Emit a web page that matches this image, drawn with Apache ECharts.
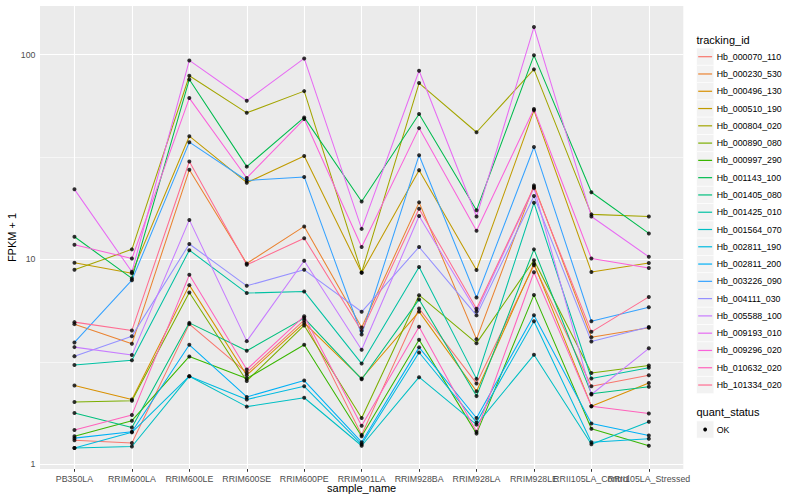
<!DOCTYPE html>
<html><head><meta charset="utf-8">
<script src="https://cdn.jsdelivr.net/npm/echarts@6/dist/echarts.min.js"></script>
<style>html,body{margin:0;padding:0;background:#fff}#c{width:800px;height:500px}</style>
</head><body><div id="c"></div>
<script>
// ---- data ----
const categories = ['PB350LA','RRIM600LA','RRIM600LE','RRIM600SE','RRIM600PE','RRIM901LA','RRIM928BA','RRIM928LA','RRIM928LE','RRII105LA_Control','RRII105LA_Stressed'];
const trackingIds = ['Hb_000070_110','Hb_000230_530','Hb_000496_130','Hb_000510_190','Hb_000804_020','Hb_000890_080','Hb_000997_290','Hb_001143_100','Hb_001405_080','Hb_001425_010','Hb_001564_070','Hb_002811_190','Hb_002811_200','Hb_003226_090','Hb_004111_030','Hb_005588_100','Hb_009193_010','Hb_009296_020','Hb_010632_020','Hb_101334_020'];
const Hb_000070_110 = [1.31, 1.27, 4.83, 2.80, 5.05, 1.39, 5.76, 2.48, 9.37, 2.40, 2.72];
const Hb_000230_530 = [4.83, 3.87, 27.4, 9.56, 14.5, 4.65, 19.0, 4.08, 23.0, 4.17, 4.64];
const Hb_000496_130 = [2.42, 2.07, 7.49, 2.72, 4.90, 2.62, 5.56, 2.27, 9.54, 1.92, 2.49];
const Hb_000510_190 = [9.63, 8.57, 40.0, 23.7, 32.0, 8.60, 27.3, 8.87, 53.5, 8.69, 9.61];
const Hb_000804_020 = [8.90, 11.2, 78.9, 52.0, 66.4, 8.64, 72.7, 41.8, 84.8, 16.6, 16.2];
const Hb_000890_080 = [2.01, 2.04, 6.90, 2.55, 4.76, 1.68, 6.69, 3.90, 9.91, 2.79, 3.03];
const Hb_000997_290 = [1.37, 1.63, 3.36, 2.62, 3.83, 1.37, 4.05, 1.41, 6.71, 1.49, 1.23];
const Hb_001143_100 = [12.9, 8.08, 75.7, 28.4, 49.4, 19.2, 51.3, 17.4, 99.3, 21.3, 13.4];
const Hb_001405_080 = [1.78, 1.51, 4.90, 3.58, 5.17, 2.60, 6.38, 2.15, 11.2, 2.21, 2.39];
const Hb_001425_010 = [3.05, 3.22, 11.1, 6.85, 6.98, 3.10, 9.18, 2.61, 18.9, 2.62, 2.96];
const Hb_001564_070 = [1.20, 1.22, 2.69, 1.91, 2.11, 1.23, 2.66, 1.56, 3.42, 1.25, 1.61];
const Hb_002811_190 = [1.20, 1.43, 2.69, 2.07, 2.40, 1.25, 3.51, 1.60, 4.99, 1.28, 1.33];
const Hb_002811_200 = [1.34, 1.44, 3.83, 2.13, 2.56, 1.28, 3.72, 1.68, 5.34, 1.58, 1.38];
const Hb_003226_090 = [3.93, 7.92, 37.4, 24.3, 25.3, 4.30, 32.3, 6.52, 35.4, 4.99, 5.84];
const Hb_004111_030 = [3.37, 4.22, 11.9, 7.43, 8.90, 5.55, 11.5, 5.33, 20.4, 3.97, 4.68];
const Hb_005588_100 = [3.73, 3.41, 15.6, 3.99, 9.85, 3.62, 16.3, 5.57, 22.3, 2.19, 3.68];
const Hb_009193_010 = [22.0, 8.70, 93.8, 59.6, 95.9, 14.1, 83.5, 16.2, 136.5, 16.2, 10.3];
const Hb_009296_020 = [11.8, 10.1, 61.4, 25.0, 48.5, 11.5, 43.8, 13.8, 54.3, 10.1, 9.09];
const Hb_010632_020 = [1.47, 1.74, 8.41, 2.90, 5.28, 1.54, 4.69, 1.44, 8.66, 1.92, 1.77];
const Hb_101334_020 = [4.94, 4.50, 30.1, 9.41, 12.7, 4.47, 17.7, 5.74, 22.6, 4.43, 6.56];
const seriesValues = [Hb_000070_110,Hb_000230_530,Hb_000496_130,Hb_000510_190,Hb_000804_020,Hb_000890_080,Hb_000997_290,Hb_001143_100,Hb_001405_080,Hb_001425_010,Hb_001564_070,Hb_002811_190,Hb_002811_200,Hb_003226_090,Hb_004111_030,Hb_005588_100,Hb_009193_010,Hb_009296_020,Hb_010632_020,Hb_101334_020];
const yTicks = [1, 10, 100];
const yMinorTicks = [Math.sqrt(10), Math.sqrt(1000)];
const quantStatus = ['OK'];

// ---- style ----
const colors = ['#F8766D','#EA8331','#D89000','#C09B00','#A3A500','#7CAE00','#39B600','#00BB4E','#00BF7D','#00C1A3','#00BFC4','#00BAE0','#00B0F6','#35A2FF','#9590FF','#C77CFF','#E76BF3','#FA62DB','#FF62BC','#FF6C91'];
const FONT = '"Liberation Sans", Arial, Helvetica, sans-serif';
const panel = {l: 40, r: 683.3, t: 6, b: 469};

// ggplot-like expansion
const allV = [].concat(...seriesValues);
const lo = Math.log10(Math.min(...allV)), hi = Math.log10(Math.max(...allV));
const pad = (hi - lo) * 0.05;
const yMin = Math.pow(10, lo - pad), yMax = Math.pow(10, hi + pad);

const chart = echarts.init(document.getElementById('c'), null, {renderer: 'svg'});

const series = [];
series.push({
  type: 'line', data: [], z: 1, silent: true,
  markLine: {
    silent: true, symbol: ['none','none'], animation: false, label: {show: false},
    emphasis: {disabled: true},
    data: [
      ...yMinorTicks.map(v => ({yAxis: v, lineStyle: {color: '#fff', width: 0.55, type: 'solid'}})),
      ...yTicks.map(v => ({yAxis: v, lineStyle: {color: '#fff', width: 1.1, type: 'solid'}})),
      ...categories.map((c, i) => ({xAxis: i, lineStyle: {color: '#fff', width: 1.1, type: 'solid'}}))
    ]
  }
});
trackingIds.forEach((id, k) => {
  series.push({
    name: id, type: 'line', z: 10, showSymbol: false, animation: false, silent: true,
    lineStyle: {color: colors[k], width: 1.05},
    data: seriesValues[k].map((v, i) => [i, v])
  });
});
const pts = [];
seriesValues.forEach(arr => arr.forEach((v, i) => pts.push([i, v])));
series.push({
  name: 'OK', type: 'scatter', z: 20, symbol: 'circle', symbolSize: 4, silent: true, animation: false,
  itemStyle: {color: '#000'}, data: pts
});

// legend drawn as graphics
const graphics = [];
const keyX = 696.5, keyW = 17.3, firstC = 56.7, step = 17.28;
graphics.push({type: 'text', x: keyX, y: 40, style: {text: 'tracking_id', font: '11px ' + FONT, fill: '#000', verticalAlign: 'middle'}});
trackingIds.forEach((id, k) => {
  const cy = firstC + k * step;
  graphics.push({type: 'rect', shape: {x: keyX, y: cy - step / 2, width: keyW, height: step}, style: {fill: '#F2F2F2', stroke: '#fff', lineWidth: 0.6}});
  graphics.push({type: 'line', shape: {x1: keyX + 1.7, y1: cy, x2: keyX + keyW - 1.7, y2: cy}, style: {stroke: colors[k], lineWidth: 1.2}});
  graphics.push({type: 'text', x: 716.7, y: cy, style: {text: id, font: '8.8px ' + FONT, fill: '#000', verticalAlign: 'middle', align: 'left'}});
});
graphics.push({type: 'text', x: keyX, y: 412.3, style: {text: 'quant_status', font: '11px ' + FONT, fill: '#000', verticalAlign: 'middle'}});
quantStatus.forEach((q, k) => {
  const cy = 429.5 + k * step;
  graphics.push({type: 'rect', shape: {x: keyX, y: cy - step / 2, width: keyW, height: step}, style: {fill: '#F2F2F2', stroke: '#fff', lineWidth: 0.6}});
  graphics.push({type: 'circle', shape: {cx: keyX + keyW / 2, cy: cy, r: 1.9}, style: {fill: '#000'}});
  graphics.push({type: 'text', x: 716.7, y: cy, style: {text: q, font: '8.8px ' + FONT, fill: '#000', verticalAlign: 'middle', align: 'left'}});
});

const idx = categories.map((c, i) => i);
const evenIdx = idx.filter(i => i % 2 === 0), oddIdx = idx.filter(i => i % 2 === 1);
function xAxisDef(vals, withName) {
  return {
    type: 'value', min: -0.6, max: categories.length - 1 + 0.6, position: 'bottom', offset: 0,
    name: withName ? 'sample_name' : '', nameLocation: 'middle', nameGap: 13.5, nameMoveOverlap: false,
    nameTextStyle: {fontFamily: FONT, fontSize: 11, color: '#000'},
    axisLine: {show: false}, splitLine: {show: false},
    axisTick: {show: true, length: 2.75, lineStyle: {color: '#333', width: 1.05}, customValues: vals},
    axisLabel: {customValues: vals, formatter: v => categories[Math.round(v)] || '', color: '#4D4D4D', fontFamily: FONT, fontSize: 8.8, margin: 5, hideOverlap: false}
  };
}

chart.setOption({
  animation: false,
  backgroundColor: '#fff',
  grid: {left: panel.l, right: 800 - panel.r, top: panel.t, bottom: 500 - panel.b, show: true, backgroundColor: '#EBEBEB', borderWidth: 0, containLabel: false, outerBoundsMode: 'none'},
  xAxis: [xAxisDef(evenIdx, true), xAxisDef(oddIdx, false)],
  yAxis: {
    type: 'log', logBase: 10, min: yMin, max: yMax,
    name: 'FPKM + 1', nameLocation: 'middle', nameGap: 22.5, nameMoveOverlap: false,
    nameTextStyle: {fontFamily: FONT, fontSize: 11, color: '#000'},
    axisLine: {show: false}, splitLine: {show: false}, minorSplitLine: {show: false},
    axisTick: {show: true, length: 2.75, lineStyle: {color: '#333', width: 1.05}, customValues: yTicks},
    axisLabel: {customValues: yTicks, formatter: v => String(Math.round(v)), color: '#4D4D4D', fontFamily: FONT, fontSize: 8.8, margin: 4.5}
  },
  graphic: {elements: graphics},
  series: series
});
</script>
</body></html>
